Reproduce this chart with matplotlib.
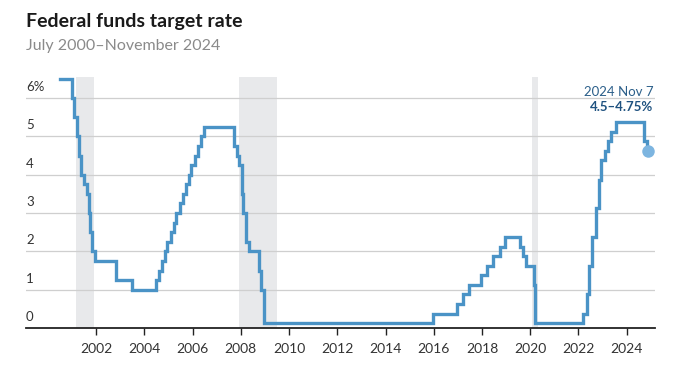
import matplotlib
matplotlib.use("Agg")
import matplotlib.pyplot as plt
import matplotlib.dates as mdates
import pandas as pd

plt.rcParams['font.family'] = ['Lato', 'DejaVu Sans']

# target rate changes (midpoint of the range after Dec 2008)
change_dates = [
    "2000-07-01", "2001-01-03", "2001-01-31", "2001-03-20", "2001-04-18",
    "2001-05-15", "2001-06-27", "2001-08-21", "2001-09-17", "2001-10-02",
    "2001-11-06", "2001-12-11", "2002-11-06", "2003-06-25", "2004-06-30",
    "2004-08-10", "2004-09-21", "2004-11-10", "2004-12-14", "2005-02-02",
    "2005-03-22", "2005-05-03", "2005-06-30", "2005-08-09", "2005-09-20",
    "2005-11-01", "2005-12-13", "2006-01-31", "2006-03-28", "2006-05-10",
    "2006-06-29", "2007-09-18", "2007-10-31", "2007-12-11", "2008-01-22",
    "2008-01-30", "2008-03-18", "2008-04-30", "2008-10-08", "2008-10-29",
    "2008-12-16", "2015-12-16", "2016-12-14", "2017-03-15", "2017-06-14",
    "2017-12-13", "2018-03-21", "2018-06-13", "2018-09-26", "2018-12-19",
    "2019-07-31", "2019-09-18", "2019-10-30", "2020-03-03", "2020-03-15",
    "2022-03-16", "2022-05-04", "2022-06-15", "2022-07-27", "2022-09-21",
    "2022-11-02", "2022-12-14", "2023-02-01", "2023-03-22", "2023-05-03",
    "2023-07-26", "2024-09-18", "2024-11-07",
]
rates = [
    6.5, 6.0, 5.5, 5.0, 4.5,
    4.0, 3.75, 3.5, 3.0, 2.5,
    2.0, 1.75, 1.25, 1.0, 1.25,
    1.5, 1.75, 2.0, 2.25, 2.5,
    2.75, 3.0, 3.25, 3.5, 3.75,
    4.0, 4.25, 4.5, 4.75, 5.0,
    5.25, 4.75, 4.5, 4.25, 3.5,
    3.0, 2.25, 2.0, 1.5, 1.0,
    0.125, 0.375, 0.625, 0.875, 1.125,
    1.375, 1.625, 1.875, 2.125, 2.375,
    2.125, 1.875, 1.625, 1.125, 0.125,
    0.375, 0.875, 1.625, 2.375, 3.125,
    3.875, 4.375, 4.625, 4.875, 5.125,
    5.375, 4.875, 4.625,
]
end_date = "2024-11-20"

recessions = [("2001-03-01", "2001-11-30"), ("2007-12-01", "2009-06-30"),
              ("2020-02-01", "2020-04-30")]

y_ticks = [0, 1, 2, 3, 4, 5, 6]
y_labels = ["0", "1", "2", "3", "4", "5", "6%"]
x_years = list(range(2002, 2025, 2))

dates = pd.to_datetime(change_dates + [end_date])
values = rates + [rates[-1]]

fig = plt.figure(figsize=(6.77, 3.72), dpi=100)
ax = fig.add_axes([26 / 677, 1 - 328 / 372, 629 / 677, 251 / 372])

for a, b in recessions:
    ax.axvspan(pd.Timestamp(a), pd.Timestamp(b), color="#e8e9eb", lw=0, zorder=0)

for t in y_ticks[1:]:
    ax.axhline(t, color="#cfcfcf", lw=0.9, zorder=1)

ax.step(dates, values, where="post", color="#4a93c6", lw=2.4, zorder=3,
        solid_joinstyle="miter")
ax.plot([pd.Timestamp(change_dates[-1]) + pd.Timedelta(days=10)], [rates[-1]],
        "o", ms=9, color="#7db5e0", zorder=4, mec="none")

ax.set_xlim(pd.Timestamp("1999-02-05"), pd.Timestamp("2025-03-05"))
ax.set_ylim(0, 6.55)

for t, lab in zip(y_ticks, y_labels):
    ax.text(0, t + 0.13, lab, transform=ax.get_yaxis_transform(),
            ha="left", va="bottom", fontsize=9.5, color="#333333")

ax.set_xticks([pd.Timestamp(f"{y}-01-01") for y in x_years])
ax.xaxis.set_major_formatter(mdates.DateFormatter("%Y"))
ax.tick_params(axis="x", length=5, width=1, color="#222222", pad=6,
               labelsize=10, labelcolor="#333333", direction="out")
ax.set_yticks([])
for s in ["top", "right", "left"]:
    ax.spines[s].set_visible(False)
ax.spines["bottom"].set_color("#222222")
ax.spines["bottom"].set_linewidth(1.3)

ax.text(1.0 - 2 / 629, 6.16, "2024 Nov 7", transform=ax.get_yaxis_transform(),
        ha="right", va="center", fontsize=9.5, color="#2b5f8a")
ax.text(1.0 - 2 / 629, 5.77, "4.5\u20134.75%", transform=ax.get_yaxis_transform(),
        ha="right", va="center", fontsize=9.5, color="#1f5280", fontweight="bold")

fig.text(26 / 677, 1 - 22 / 372, "Federal funds target rate", fontsize=14,
         fontweight="bold", color="#1a1a1a", va="center", ha="left")
fig.text(26 / 677, 1 - 46 / 372, "July 2000\u2013November 2024", fontsize=11.5,
         color="#8a8a8a", va="center", ha="left")

fig.savefig("out.png", dpi=100)
